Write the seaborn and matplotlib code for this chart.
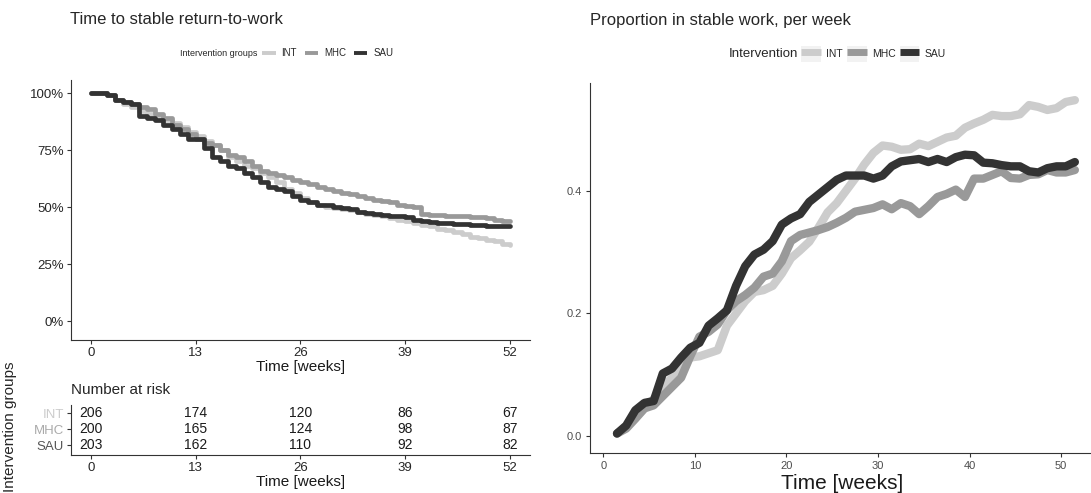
import numpy as np
import pandas as pd
import matplotlib
matplotlib.use("Agg")
import matplotlib.pyplot as plt
from matplotlib.lines import Line2D
from matplotlib.patches import Patch
from matplotlib.legend_handler import HandlerTuple
import seaborn as sns

# Kaplan-Meier style curves: percent not yet in stable work, weeks 0..52
km_weeks = list(range(53))
km_int = [100, 100, 99, 97, 95, 94, 92, 91, 90, 88, 87, 85, 83, 81, 79, 77, 75, 72, 70, 68,
          67, 65, 63, 61, 58, 56, 54, 52, 51, 50, 49.5, 49, 48.5, 48, 47, 46.5, 46, 45, 44.5,
          44, 43, 42, 41.5, 40.5, 40, 39, 38, 37, 36.5, 35.5, 35, 34, 33.5]
km_mhc = [100, 100, 99, 97, 96, 95, 94, 93, 91, 89, 86, 84, 82, 80, 78, 77, 75, 73, 72, 70,
          68, 66, 65, 64, 63, 62, 61, 60, 59, 58, 57, 56, 55.5, 55, 54, 53, 52.5, 52, 51,
          50.5, 50, 47, 46.5, 46.5, 46, 46, 46, 45.5, 45.5, 45, 44.5, 44, 44]
km_sau = [100, 100, 99, 97, 96, 95, 90, 89, 88, 86, 84, 82, 80, 80, 76, 72, 70, 68, 67, 65,
          63, 61, 59, 58, 57, 55, 53, 52, 51, 51, 50, 49.5, 49, 48, 47.5, 47, 46.5, 46, 46,
          45.5, 44.5, 44, 43.5, 43, 43, 42.5, 42.5, 42, 42, 41.8, 41.5, 41.5, 41.5]

# number at risk table
risk_times = [0, 13, 26, 39, 52]
risk_int = [206, 174, 120, 86, 67]
risk_mhc = [200, 165, 124, 98, 87]
risk_sau = [203, 162, 110, 92, 82]

# proportion in stable work per week
prop_weeks = [w + 1.5 for w in range(51)]
prop_int = [0.004, 0.015, 0.03, 0.045, 0.06, 0.08, 0.095, 0.11, 0.128, 0.13, 0.135, 0.14,
            0.18, 0.2, 0.22, 0.235, 0.238, 0.245, 0.265, 0.29, 0.303, 0.317, 0.34, 0.365,
            0.38, 0.4, 0.42, 0.443, 0.462, 0.474, 0.472, 0.467, 0.468, 0.477, 0.473, 0.48,
            0.487, 0.49, 0.503, 0.51, 0.516, 0.524, 0.522, 0.522, 0.525, 0.54, 0.537,
            0.532, 0.535, 0.545, 0.548]
prop_mhc = [0.004, 0.012, 0.028, 0.045, 0.05, 0.065, 0.08, 0.095, 0.13, 0.162, 0.17, 0.182,
            0.205, 0.22, 0.23, 0.242, 0.26, 0.265, 0.285, 0.318, 0.328, 0.332, 0.336, 0.341,
            0.348, 0.356, 0.366, 0.369, 0.372, 0.378, 0.37, 0.38, 0.375, 0.362, 0.375, 0.39,
            0.395, 0.402, 0.39, 0.42, 0.42, 0.426, 0.432, 0.421, 0.42, 0.426, 0.427, 0.434,
            0.43, 0.43, 0.434]
prop_sau = [0.004, 0.017, 0.042, 0.054, 0.057, 0.102, 0.11, 0.128, 0.144, 0.152, 0.18,
            0.192, 0.205, 0.245, 0.277, 0.296, 0.304, 0.318, 0.345, 0.355, 0.362, 0.382,
            0.394, 0.406, 0.418, 0.425, 0.425, 0.425, 0.42, 0.425, 0.44, 0.448, 0.45, 0.452,
            0.447, 0.452, 0.447, 0.455, 0.459, 0.458, 0.446, 0.445, 0.442, 0.44, 0.44, 0.432,
            0.43, 0.437, 0.44, 0.44, 0.447]

groups = ["INT", "MHC", "SAU"]
colors = {"INT": "#cccccc", "MHC": "#999999", "SAU": "#333333"}
label_colors = {"INT": "#cccccc", "MHC": "#aaaaaa", "SAU": "#555555"}

sns.set_style("ticks")
plt.rcParams["font.family"] = ["Liberation Sans", "DejaVu Sans"]

km_df = pd.concat([
    pd.DataFrame({"week": km_weeks, "surv": vals, "group": g})
    for g, vals in zip(groups, [km_int, km_mhc, km_sau])
])
prop_df = pd.concat([
    pd.DataFrame({"week": prop_weeks, "prop": vals, "group": g})
    for g, vals in zip(groups, [prop_int, prop_mhc, prop_sau])
])

fig = plt.figure(figsize=(10.91, 4.93), dpi=100)
W, H = 1091, 493


def box(l, t, r, b):
    return [l / W, 1 - b / H, (r - l) / W, (b - t) / H]


ax_km = fig.add_axes(box(71, 80, 530, 340))
ax_tab = fig.add_axes(box(71, 405, 530, 455))
ax_pr = fig.add_axes(box(590, 83, 1095, 453))

# survival curves
sns.lineplot(data=km_df, x="week", y="surv", hue="group", palette=colors,
             drawstyle="steps-post", linewidth=3.4, legend=False, ax=ax_km)
ax_km.set_xlim(-2.48, 54.5)
ax_km.set_ylim(-8.3, 105.7)
ax_km.set_xticks(risk_times)
ax_km.set_yticks([0, 25, 50, 75, 100])
ax_km.set_yticklabels(["0%", "25%", "50%", "75%", "100%"])
ax_km.set_xlabel("Time [weeks]", fontsize=11, labelpad=1, color="#1a1a1a")
ax_km.set_ylabel("")
ax_km.tick_params(labelsize=9.5, length=3, color="#333333", pad=2)
sns.despine(ax=ax_km)
for s in ["left", "bottom"]:
    ax_km.spines[s].set_color("#333333")

# risk table
row_y = {"INT": 3, "MHC": 2, "SAU": 1}
for g, counts in zip(groups, [risk_int, risk_mhc, risk_sau]):
    for t, n in zip(risk_times, counts):
        ax_tab.text(t, row_y[g], str(n), ha="center", va="center", fontsize=10,
                    color="#1a1a1a")
ax_tab.set_xlim(-2.48, 54.5)
ax_tab.set_ylim(0.375, 3.5)
ax_tab.set_xticks(risk_times)
ax_tab.set_yticks([row_y[g] for g in groups])
ax_tab.set_yticklabels(groups)
for lab, g in zip(ax_tab.get_yticklabels(), groups):
    lab.set_color(label_colors[g])
ax_tab.tick_params(labelsize=9.5, length=3, color="#333333", pad=2)
ax_tab.set_xlabel("Time [weeks]", fontsize=11, labelpad=1, color="#1a1a1a")
ax_tab.set_title("Number at risk", loc="left", fontsize=11, pad=8)
sns.despine(ax=ax_tab)
for s in ["left", "bottom"]:
    ax_tab.spines[s].set_color("#333333")
fig.text(10 / W, 1 - 427 / H, "Intervention groups", rotation=90, ha="center",
         va="center", fontsize=11)

# proportion per week
sns.lineplot(data=prop_df, x="week", y="prop", hue="group", palette=colors,
             linewidth=6, legend=False, ax=ax_pr)
ax_pr.set_xlim(-1.45, 53.7)
ax_pr.set_ylim(-0.0278, 0.576)
ax_pr.set_xticks([0, 10, 20, 30, 40, 50])
ax_pr.set_yticks([0.0, 0.2, 0.4])
ax_pr.set_yticklabels(["0.0", "0.2", "0.4"])
ax_pr.tick_params(labelsize=8, length=3, color="#333333", labelcolor="#4d4d4d", pad=3)
ax_pr.set_xlabel("Time [weeks]", fontsize=15, labelpad=2, color="#1a1a1a")
ax_pr.set_ylabel("")
sns.despine(ax=ax_pr)
for s in ["left", "bottom"]:
    ax_pr.spines[s].set_color("#333333")

# titles
fig.text(70 / W, 1 - 20 / H, "Time to stable return-to-work", fontsize=12, va="center")
fig.text(590 / W, 1 - 20 / H, "Proportion in stable work, per week", fontsize=12,
         va="center")

# left legend
fig.text(257 / W, 1 - 53 / H, "Intervention groups", fontsize=6.5, ha="right",
         va="center")
km_handles = [Line2D([], [], color=colors[g], linewidth=2.8, solid_capstyle="butt")
              for g in groups]
fig.legend(km_handles, groups, loc="center left", bbox_to_anchor=(262 / W, 1 - 53 / H),
           ncol=3, frameon=False, fontsize=7, handlelength=1.4, handletextpad=0.6,
           columnspacing=0.8, borderpad=0, borderaxespad=0)

# right legend
fig.text(798 / W, 1 - 54 / H, "Intervention", fontsize=9.5, ha="right", va="center")
pr_handles = [(Patch(facecolor="#f2f2f2", edgecolor="none"),
               Line2D([], [], color=colors[g], linewidth=5, solid_capstyle="butt"))
              for g in groups]
fig.legend(pr_handles, groups, loc="center left", bbox_to_anchor=(801 / W, 1 - 54 / H),
           ncol=3, frameon=False, fontsize=7.5, handlelength=1.9, handleheight=1.9,
           handletextpad=0.5, columnspacing=0.4, borderpad=0, borderaxespad=0,
           handler_map={tuple: HandlerTuple(ndivide=1, pad=0)})

fig.savefig("out.png", dpi=100)
